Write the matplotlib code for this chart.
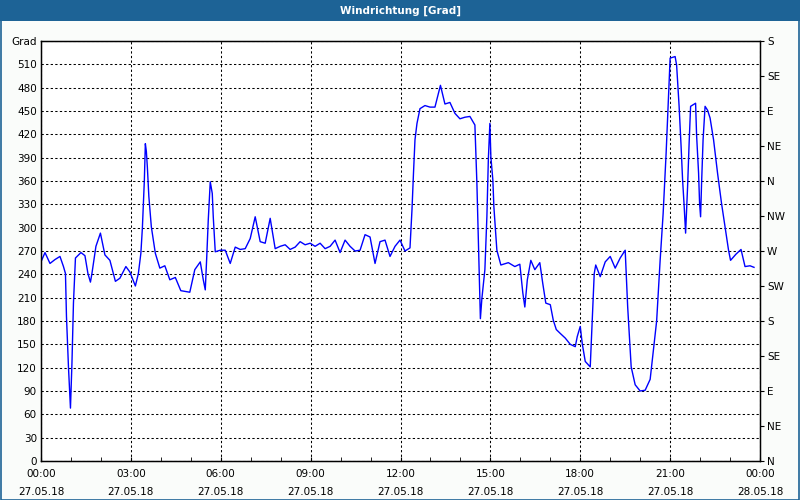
import datetime
import matplotlib
matplotlib.use("Agg")
import matplotlib.pyplot as plt
import matplotlib.dates as mdates
from matplotlib.patches import Rectangle

# Minuten ab 27.05.18 00:00 und Windrichtung in Grad
minuten = [0, 8, 18, 28, 38, 45, 49, 51, 55, 59, 62, 65, 69, 80, 88, 94, 99, 102,
           110, 119, 128, 138, 149, 158, 170, 178, 189, 195, 200, 203, 205, 207,
           209, 211, 213, 216, 221, 229, 238, 248, 258, 269, 280, 298, 308, 319,
           325, 329, 332, 335, 339, 343, 345, 349, 359, 369, 379, 389, 399, 409,
           419, 429, 439, 449, 459, 469, 479, 489, 499, 509, 519, 529, 539, 549,
           559, 569, 579, 589, 599, 609, 619, 629, 639, 649, 659, 669, 679, 689,
           699, 709, 719, 729, 739, 743, 746, 749, 753, 759, 769, 779, 789, 800,
           809, 819, 829, 839, 849, 859, 869, 873, 877, 880, 883, 889, 893, 896,
           899, 901, 905, 907, 913, 921, 936, 949, 959, 965, 969, 974, 981, 989,
           999, 1005, 1011, 1020, 1026, 1032, 1040, 1050, 1060, 1070, 1074, 1080,
           1084, 1090, 1100, 1104, 1108, 1111, 1120, 1130, 1140, 1150, 1160, 1170,
           1175, 1182, 1190, 1200, 1210, 1220, 1226, 1233, 1240, 1246, 1252, 1256,
           1260, 1270, 1273, 1278, 1282, 1285, 1288, 1291, 1295, 1298, 1301, 1311,
           1313, 1317, 1319, 1321, 1323, 1326, 1330, 1335, 1340, 1347, 1355, 1363,
           1371, 1377, 1381, 1392, 1402, 1410, 1420, 1428]
grad = [256, 268, 254, 259, 263, 250, 241, 186, 121, 68, 126, 203, 261, 268, 264,
        241, 230, 241, 276, 293, 265, 258, 231, 235, 250, 243, 225, 241, 267, 299,
        331, 361, 408, 398, 378, 340, 301, 267, 248, 251, 233, 236, 219, 217, 246,
        256, 233, 220, 263, 310, 359, 344, 314, 269, 271, 271, 254, 275, 272, 273,
        286, 314, 282, 280, 312, 273, 276, 278, 272, 275, 282, 278, 280, 276, 280,
        273, 276, 284, 268, 284, 276, 270, 271, 291, 288, 254, 282, 284, 263, 276,
        284, 270, 274, 323, 370, 413, 434, 453, 457, 455, 455, 483, 459, 461, 447,
        440, 442, 443, 432, 357, 258, 183, 209, 246, 314, 389, 434, 391, 361, 327,
        271, 252, 255, 250, 253, 216, 198, 233, 258, 246, 255, 228, 203, 201, 181,
        169, 164, 158, 150, 147, 160, 173, 151, 128, 121, 181, 241, 252, 237, 256,
        263, 248, 261, 271, 198, 121, 98, 90, 91, 105, 140, 180, 258, 318, 396, 456,
        518, 520, 509, 456, 404, 361, 329, 293, 353, 408, 456, 460, 419, 370, 331,
        314, 357, 413, 456, 451, 441, 413, 370, 331, 297, 271, 258, 266, 272, 250,
        251, 249]

grad_ticks = list(range(0, 541, 30))
grad_labels = [str(v) for v in grad_ticks[:-1]] + ["Grad"]
kompass_ticks = list(range(0, 541, 45))
kompass_labels = ["N", "NE", "E", "SE", "S", "SW", "W", "NW", "N", "NE", "E", "SE", "S"]

start = datetime.datetime(2018, 5, 27)
zeiten = [start + datetime.timedelta(minutes=m) for m in minuten]
ende = start + datetime.timedelta(days=1)

fig = plt.figure(figsize=(8, 5), dpi=100)
fig.patch.set_facecolor("#fafcfa")

# Titelleiste
fig.add_artist(Rectangle((0, 0.958), 1, 0.042, transform=fig.transFigure,
                         facecolor="#1d6396", edgecolor="none"))
fig.text(0.5, 0.979, "Windrichtung [Grad]", color="white", fontsize=7.5,
         fontweight="bold", ha="center", va="center")
# Rahmen
fig.add_artist(Rectangle((0.001, 0.001), 0.998, 0.998, transform=fig.transFigure,
                         facecolor="none", edgecolor="#1d6396", linewidth=1.2))

ax = fig.add_axes([0.05125, 0.078, 0.89875, 0.84])
ax.set_facecolor("white")
ax.plot(zeiten, grad, color="#0000ff", linewidth=1.0)

ax.set_xlim(start, ende)
ax.set_ylim(0, 540)

ax.set_yticks(grad_ticks)
ax.set_yticklabels(grad_labels)
ax.tick_params(axis="y", length=0, pad=3, labelsize=7.5)

ax.xaxis.set_major_locator(mdates.HourLocator(byhour=range(0, 24, 3)))
ax.xaxis.set_minor_locator(mdates.HourLocator())
ax.xaxis.set_major_formatter(mdates.DateFormatter("%H:%M\n%d.%m.%y"))
ax.tick_params(axis="x", which="both", direction="in", length=3, pad=6,
               labelsize=7.5)
for lbl in ax.get_xticklabels():
    lbl.set_linespacing(1.9)

ax.grid(True, which="major", color="black", linestyle=(0, (2.2, 2.2)),
        linewidth=0.75)
for s in ax.spines.values():
    s.set_linewidth(1.0)
    s.set_color("black")

ax2 = ax.twinx()
ax2.set_ylim(0, 540)
ax2.set_yticks(kompass_ticks)
ax2.set_yticklabels(kompass_labels)
ax2.tick_params(axis="y", direction="out", length=3, pad=2, labelsize=7.5)

fig.savefig("out.png", dpi=100, facecolor=fig.get_facecolor())
